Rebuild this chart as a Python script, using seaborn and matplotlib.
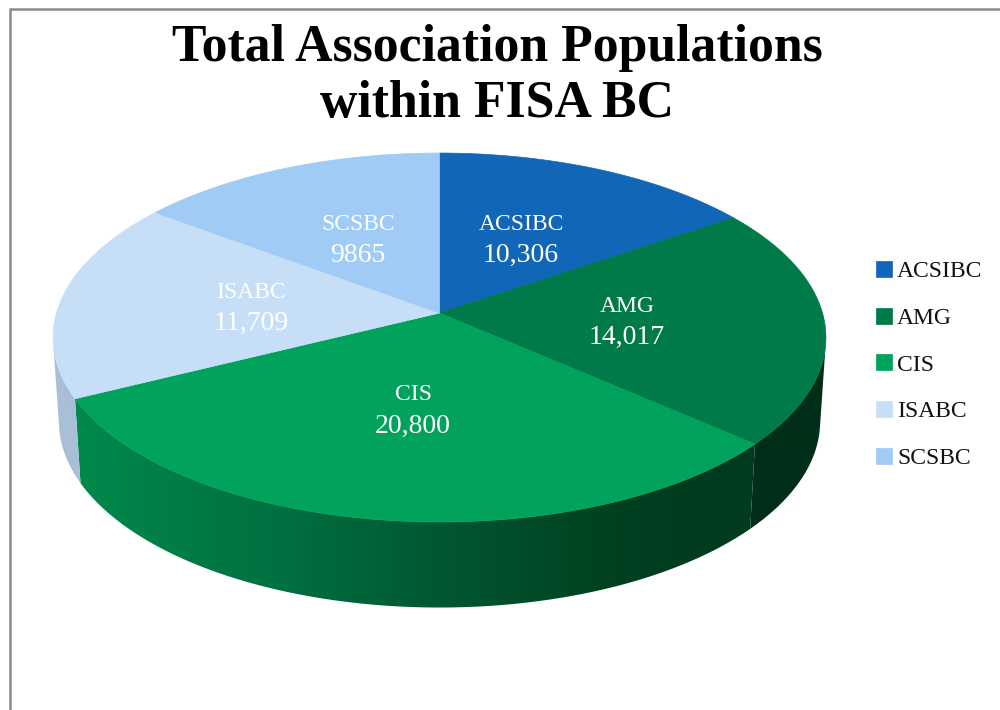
import numpy as np
import matplotlib
matplotlib.use("Agg")
import matplotlib.pyplot as plt
from matplotlib.patches import PathPatch
from matplotlib.path import Path
from matplotlib.transforms import Affine2D, Transform
from matplotlib.colors import to_rgb
import seaborn as sns

associations = ["ACSIBC", "AMG", "CIS", "ISABC", "SCSBC"]
populations = [10306, 14017, 20800, 11709, 9865]
value_labels = ["10,306", "14,017", "20,800", "11,709", "9865"]
title_lines = ["Total Association Populations", "within FISA BC"]

top_colors = ["#1266b8", "#007a48", "#00a25c", "#c6dff7", "#9fcbf5"]
# wall shading: (pixel x, colour) stops per slice
wall_stops = [
    [(0, "#0d4a86"), (1000, "#0d4a86")],
    [(0, "#002e18"), (1000, "#002e18")],
    [(72, "#008a4c"), (280, "#007040"), (450, "#005630"), (620, "#00401f"), (760, "#003a20")],
    [(0, "#a9bfd8"), (1000, "#a9bfd8")],
    [(0, "#7fa6cc"), (1000, "#7fa6cc")],
]
label_xy = [(521, 240), (627, 322), (413, 410.5), (251, 307.5), (358, 239.5)]

# perspective of the pie disc onto the page (pixels)
CX, CY, AX_, BY_, K = 439.5, 313.0, 383.0, 181.2, 0.1328
SX, SY, DROP = 0.985, 1.01, 83.5


def project(u, v):
    d = 1 + K * v
    return CX + AX_ * u / d, CY - BY_ * v / d


class DiscProjection(Transform):
    input_dims = 2
    output_dims = 2

    def transform_non_affine(self, values):
        values = np.asarray(values, dtype=float)
        x, y = project(values[:, 0], values[:, 1])
        return np.column_stack([x, y])

    def transform_path_non_affine(self, path):
        scale = Affine2D().scale(2000)
        polys = path.transformed(scale).to_polygons(closed_only=True)
        verts = np.vstack(polys) / 2000.0
        return Path(self.transform_non_affine(verts), closed=False)


sns.set_theme(style="white")
plt.rcParams["font.family"] = ["Liberation Serif", "DejaVu Serif"]

fig = plt.figure(figsize=(10, 7.1), dpi=100, facecolor="white")
ax = fig.add_axes([0, 0, 1, 1])

palette = sns.color_palette(top_colors)
wedges, _ = ax.pie(populations, colors=palette, startangle=90, counterclock=False)

projection = DiscProjection()
for w in wedges:
    w.set_transform(projection + ax.transData)
    w.set_zorder(3)
    w.set_edgecolor(w.get_facecolor())
    w.set_linewidth(0.5)

# side walls, from the same slice angles: a horizontal gradient clipped to the front-facing
# part of each wall outline
edges = 360.0 * np.cumsum([0] + populations) / sum(populations)
grid = np.arange(1000) + 0.5
for i in range(len(populations)):
    steps = max(int(edges[i + 1] - edges[i]) * 4, 4)
    ang = np.radians(90 - np.linspace(edges[i], edges[i + 1], steps + 1))
    tx, ty = project(np.cos(ang), np.sin(ang))
    bx = CX + (tx - CX) * SX
    by = CY + (ty - CY) * SY + DROP
    # signed area of each wall quad: negative on this y-down page means it faces the viewer
    area = ((tx[1:] - bx[:-1]) * (by[1:] - ty[:-1]) - (bx[1:] - tx[:-1]) * (ty[1:] - by[:-1]))
    front = np.flatnonzero(area < 0)
    if front.size == 0:
        continue
    first, last = front[0], front[-1] + 2
    tx, ty, bx, by = tx[first:last], ty[first:last], bx[first:last], by[first:last]
    xs = [s[0] for s in wall_stops[i]]
    rgb = np.array([to_rgb(s[1]) for s in wall_stops[i]])
    strip = np.stack([np.interp(grid, xs, rgb[:, c]) for c in range(3)], axis=-1)[None, :, :]
    outline = np.vstack([np.column_stack([tx, ty]), np.column_stack([bx, by])[::-1], [[tx[0], ty[0]]]])
    patch = PathPatch(Path(outline), transform=ax.transData, facecolor="none", edgecolor="none")
    ax.add_patch(patch)
    image = ax.imshow(strip, extent=(0, 1000, 710, 0), aspect="auto", zorder=2, interpolation="bilinear")
    image.set_clip_path(patch)

ax.set_aspect("auto")
ax.set_xlim(0, 1000)
ax.set_ylim(710, 0)
ax.set_frame_on(False)
ax.set_xticks([])
ax.set_yticks([])

for name, val, (x, y) in zip(associations, value_labels, label_xy):
    ax.text(x, y - 15.5, name, color="white", ha="center", va="center", fontsize=17, zorder=5)
    ax.text(x, y + 15.5, val, color="white", ha="center", va="center", fontsize=20, zorder=5)

ax.text(497, 76, "\n".join(title_lines), ha="center", va="center", color="black",
        fontsize=37.3, fontweight="bold", linespacing=1.19, zorder=5)

# chart-area border (left and top only are in view)
ax.plot([10, 10, 1000], [710, 9, 9], color="#8c8c8c", lw=1.8, zorder=1, solid_joinstyle="miter")

ax.legend(wedges, associations, loc="upper left", bbox_to_anchor=(876, 261),
          bbox_transform=ax.transData, frameon=False, fontsize=17,
          handlelength=0.66, handleheight=0.66, handletextpad=0.24,
          labelspacing=1.08, borderpad=0.0, borderaxespad=0.0, labelcolor="#111111")

fig.savefig("out.png", dpi=100, facecolor="white")
